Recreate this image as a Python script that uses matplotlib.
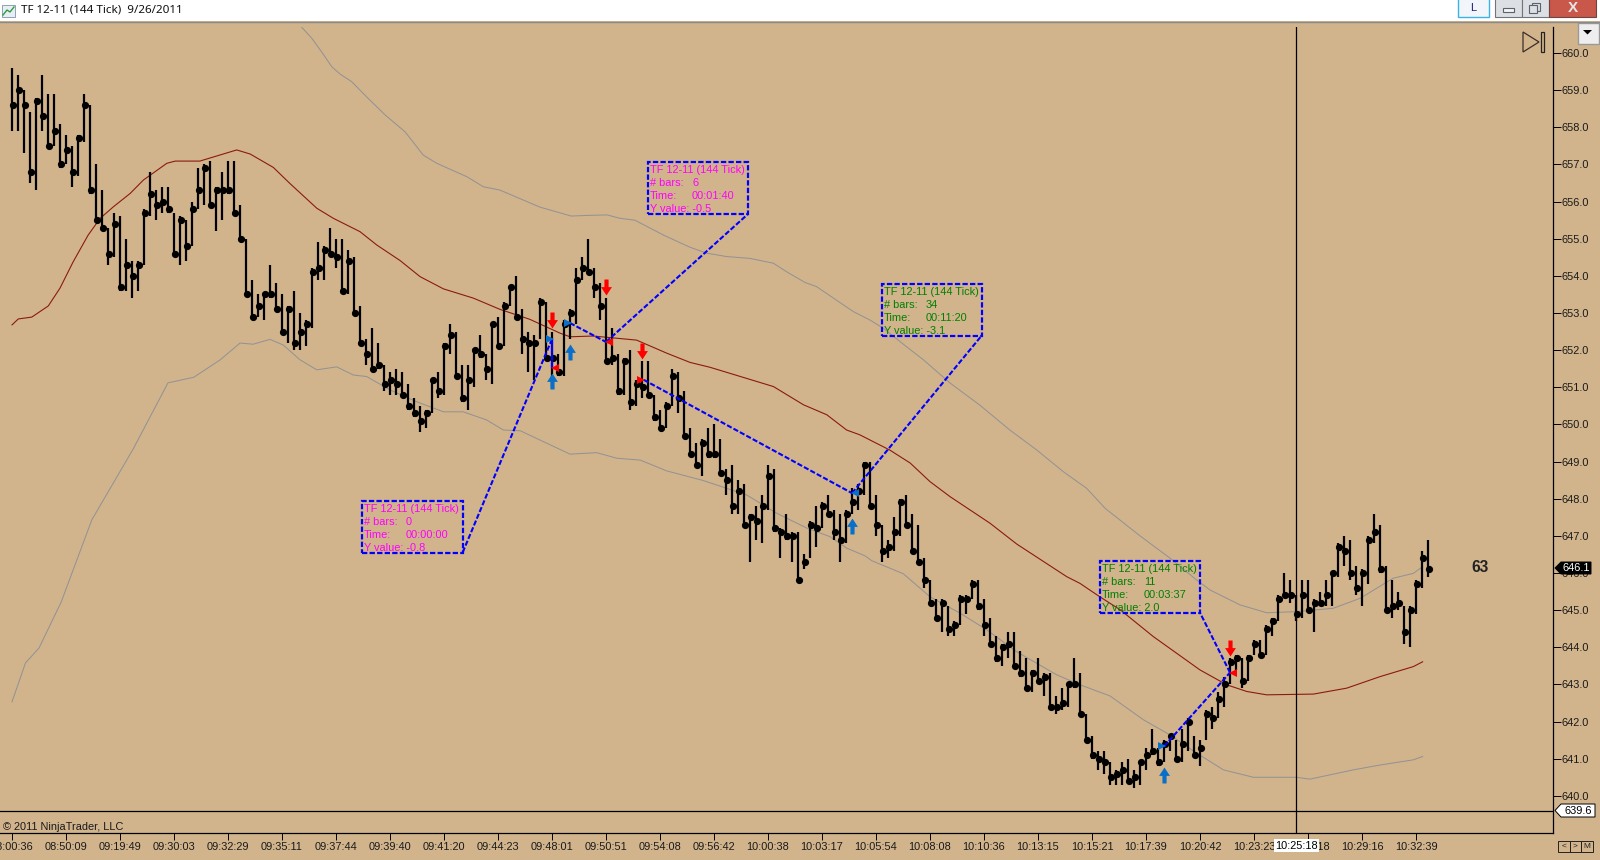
import matplotlib
matplotlib.use('Agg')
import matplotlib.pyplot as plt
from matplotlib.patches import Rectangle, Polygon
from matplotlib.path import Path

plt.rcParams['font.family'] = ['Liberation Sans', 'DejaVu Sans']

# price bars, one value per bar
highs = [659.6,659.4,659.0,658.4,658.8,659.4,658.9,658.9,658.1,657.8,
         657.5,657.8,658.9,658.6,657.0,656.3,655.3,655.7,655.6,655.0,
         654.4,654.4,655.8,656.8,656.3,656.4,656.4,655.7,655.6,655.5,
         656.0,656.9,657.0,657.1,656.4,656.8,657.1,657.1,655.9,655.0,
         653.9,653.5,653.5,654.3,653.8,653.5,653.2,653.6,653.0,652.8,
         654.2,654.9,654.8,655.3,655.0,655.0,654.7,654.5,653.2,652.3,
         652.6,652.2,651.6,651.4,651.5,651.4,651.1,650.7,650.5,650.4,
         651.2,651.4,652.2,652.7,652.5,651.6,651.6,652.0,652.4,651.9,
         652.7,652.9,653.3,653.7,654.0,653.1,652.5,652.4,653.4,653.3,
         652.5,651.9,652.8,653.1,654.2,654.5,655.0,654.2,653.8,653.4,
         652.6,651.9,651.8,652.0,651.2,651.7,651.7,650.8,650.4,650.6,
         651.5,651.4,650.9,649.9,649.5,649.6,649.9,650.0,649.6,648.8,
         648.9,648.5,648.4,647.6,647.8,648.1,648.9,648.8,647.2,647.6,
         647.1,647.1,646.5,647.4,647.8,647.9,648.1,647.7,647.6,647.7,
         648.3,648.4,649.0,649.0,648.1,647.3,646.9,647.5,648.0,648.1,
         647.6,647.3,646.4,645.8,645.3,645.3,645.1,644.7,645.4,645.4,
         645.8,645.8,645.3,644.8,644.3,644.1,644.4,644.4,643.9,643.7,
         643.4,643.7,643.3,643.3,642.7,642.9,643.0,643.7,643.3,642.2,
         641.6,641.2,641.2,640.9,640.7,640.9,641.0,640.7,640.9,641.3,
         641.8,641.3,641.5,641.6,641.5,641.8,642.1,641.6,641.5,642.3,
         642.4,642.8,643.2,643.7,643.8,643.7,643.8,644.2,644.2,644.6,
         644.8,645.4,646.0,645.8,645.4,645.8,645.8,645.3,645.5,645.8,
         646.0,646.8,647.0,646.9,646.2,646.1,647.0,647.6,647.3,646.2,
         645.8,645.5,645.1,645.1,645.8,646.6,646.9]
lows = [657.9,657.9,657.3,656.5,656.3,657.9,657.5,657.5,656.9,657.0,
        656.4,656.7,657.6,656.2,655.5,655.2,654.3,654.5,653.6,653.6,
        653.4,653.6,654.3,655.6,655.5,655.7,655.7,654.5,654.3,654.4,
        654.8,655.8,655.9,655.9,655.2,655.5,656.2,655.7,654.9,653.5,
        652.9,652.9,652.8,653.4,653.1,652.5,652.2,652.0,652.0,652.1,
        652.6,653.9,653.9,654.6,654.2,653.5,653.5,653.0,652.2,651.6,
        651.5,651.5,650.9,650.8,650.8,650.7,650.4,650.2,649.8,649.9,
        650.3,650.7,650.8,651.9,651.3,650.6,650.4,651.0,651.8,651.2,
        651.1,652.1,652.1,653.2,652.8,651.9,651.4,651.2,652.3,651.7,
        651.0,651.3,651.3,652.3,652.7,653.9,654.1,653.4,652.8,651.7,
        651.6,650.8,650.8,650.4,650.5,650.7,650.8,650.1,649.9,649.9,
        650.5,650.3,649.7,649.2,648.9,648.6,649.1,649.1,648.7,648.1,
        647.6,647.6,647.2,646.3,646.9,646.8,647.7,647.1,646.4,646.9,
        646.3,645.8,646.1,646.4,646.7,647.2,647.5,646.9,646.3,646.8,
        647.6,647.7,648.1,647.8,647.0,646.3,646.4,646.6,647.0,647.3,
        646.6,646.3,645.6,645.2,644.7,644.4,644.3,644.3,644.6,644.9,
        645.3,645.0,644.3,644.0,643.6,643.5,643.7,643.5,643.2,642.9,
        642.8,643.0,642.7,642.3,642.2,642.3,642.4,642.9,642.2,641.5,
        641.0,640.7,640.6,640.3,640.3,640.3,640.4,640.2,640.3,640.7,
        641.1,640.8,640.9,641.2,640.9,640.9,641.2,641.1,640.8,641.5,
        641.8,642.1,642.4,643.0,643.4,642.9,643.1,643.8,643.7,643.8,
        644.3,644.7,645.4,645.2,644.7,644.8,645.0,644.4,645.1,645.1,
        645.1,645.9,646.2,645.8,645.4,645.1,645.7,646.8,646.0,645.0,
        644.8,645.0,644.1,644.0,644.9,645.6,645.9]
closes = [658.6,659.0,658.6,656.8,658.7,658.3,657.5,657.9,657.0,657.4,
          656.8,657.7,658.6,656.3,655.5,655.3,654.6,655.4,653.7,654.3,
          654.0,654.3,655.7,656.2,655.9,656.0,655.8,654.6,655.5,654.8,
          655.8,656.3,656.9,655.9,656.3,656.3,656.3,655.7,655.0,653.5,
          652.9,653.2,653.5,653.5,653.1,652.5,653.1,652.2,652.5,652.7,
          654.1,654.2,654.7,654.6,654.5,653.6,654.4,653.0,652.2,651.9,
          651.5,651.6,651.1,651.2,651.1,650.8,650.5,650.3,650.1,650.3,
          651.2,650.9,652.1,652.4,651.3,650.7,651.2,652.0,651.9,651.5,
          652.7,652.1,653.2,653.7,652.9,652.3,652.2,652.2,653.3,651.8,
          651.8,651.4,652.7,653.0,653.9,654.2,654.1,653.7,653.2,651.7,
          651.8,650.9,651.7,650.6,651.1,651.0,650.8,650.2,649.9,650.5,
          651.3,650.7,649.7,649.2,648.9,649.5,649.2,649.2,648.7,648.5,
          647.8,648.2,647.3,647.5,647.4,647.8,648.6,647.2,647.1,647.0,
          647.0,645.8,646.3,647.3,647.2,647.8,647.6,647.1,646.9,647.6,
          647.9,648.2,648.9,647.8,647.3,646.6,646.7,647.1,647.9,647.3,
          646.6,646.3,645.8,645.2,644.8,645.2,644.5,644.6,645.3,645.3,
          645.7,645.1,644.6,644.1,643.7,644.0,644.1,643.5,643.3,642.9,
          643.3,643.1,643.2,642.4,642.4,642.5,643.0,643.0,642.2,641.5,
          641.1,641.0,640.9,640.5,640.6,640.7,640.4,640.5,640.9,641.1,
          641.2,640.9,641.4,641.6,641.0,641.4,642.0,641.1,641.3,642.2,
          642.1,642.6,643.0,643.6,643.7,643.1,643.7,644.1,643.8,644.5,
          644.7,645.3,645.4,645.4,644.9,645.4,645.0,645.2,645.2,645.4,
          646.0,646.7,646.6,646.0,645.6,646.0,646.9,647.1,646.1,645.0,
          645.1,645.2,644.4,645.0,645.7,646.4,646.1]

# moving average, (bar, price)
ma_bar = [0,1.05,3.3,6.05,8,10.2,12.7,14.7,16.9,19.7,21.9,25.8,27.2,31.3,37.45,39.7,43.55,
          46.3,50.8,53.55,58,60.8,64.7,68,71.9,76.9,81.3,86.3,91.3,93,96.9,104.1,109.1,113,
          116.3,126.9,131.9,135.8,139.1,141.3,146.3,149.7,153,156.3,163,167.45,175.8,178,
          181.3,184.7,190.2,198,202.45,205.8,209.1,216.9,222.45,228,233.55,235.1]
ma_val = [652.68,652.84,652.89,653.19,653.67,654.38,655.10,655.55,655.86,656.22,656.58,657.03,
          657.09,657.09,657.39,657.28,656.92,656.49,655.82,655.55,655.19,654.83,654.41,653.98,
          653.65,653.40,653.10,652.83,652.46,652.36,652.38,652.27,651.92,651.67,651.54,651.02,
          650.53,650.26,649.85,649.72,649.31,648.96,648.46,648.06,647.34,646.78,645.90,645.72,
          645.36,645.01,644.29,643.39,642.99,642.81,642.72,642.74,642.90,643.21,643.48,643.61]

# upper band
up_bar = [48.3,49.95,51.6,53.3,54.7,56.6,59.1,62.2,65.5,68.55,70.8,75.8,78.55,81.3,88,93.2,96.3,
          99.2,101.3,103.8,108.55,113,115.8,119.1,123,126.9,129.1,132.2,134.1,138,140.2,143,
          145.2,149.1,151.9,156.3,161.3,166.3,170.8,175.2,179.1,182.2,188,193,197.45,199.7,
          204.7,209.1,214.1,220.2,224.7,230.2,233.55,235.1]
up_val = [660.69,660.40,660.03,659.63,659.43,659.23,658.82,658.33,657.88,657.25,657.03,656.67,
          656.40,656.31,655.85,655.61,655.63,655.64,655.55,655.50,655.10,654.77,654.61,654.52,
          654.47,654.34,654.11,653.82,653.71,653.28,653.04,652.81,652.59,652.09,651.74,651.12,
          650.52,649.85,649.31,648.73,648.28,647.74,647.00,646.40,645.81,645.54,645.14,644.93,
          644.96,645.05,645.32,645.86,645.99,646.17]

# lower band
lo_bar = [0,2.25,4.5,8.2,13.3,20.2,26,30.3,34.7,38,40.2,43,45.2,48,50.8,54.1,56.9,59.1,63,67.45,
          71.9,75.2,79.1,81.9,84.7,88,93,97.45,100.8,104.7,109.1,115.2,119.1,122.45,127.45,
          132.45,136.3,139.1,142.2,143.3,148.55,153,158,162.45,167.45,174.1,178,183,188.55,
          193,197.45,201.9,206.9,214.1,216.3,223.55,228,233.55,235.1]
lo_val = [642.53,643.58,643.98,645.22,647.43,649.34,651.12,651.27,651.74,652.19,652.16,652.29,
          652.14,651.74,651.47,651.55,651.33,651.29,650.93,650.61,650.34,650.34,650.12,649.85,
          649.83,649.58,649.20,649.24,649.09,649.04,648.75,648.49,648.28,648.10,647.61,647.21,
          646.98,646.67,646.46,646.33,645.98,645.36,644.92,644.47,643.88,643.26,642.99,642.69,
          642.05,641.64,641.15,640.70,640.50,640.50,640.45,640.70,640.83,640.97,641.06]

# entry / exit arrows
red_bar = [90, 99, 105, 203]
red_val = [652.80, 653.69, 651.99, 643.98]
blue_bar = [90, 93, 140, 192]
blue_val = [651.17, 651.96, 647.27, 640.56]

x_labels = ['08:00:36','08:50:09','09:19:49','09:30:03','09:32:29','09:35:11','09:37:44','09:39:40',
            '09:41:20','09:44:23','09:48:01','09:50:51','09:54:08','09:56:42','10:00:38','10:03:17',
            '10:05:54','10:08:08','10:10:36','10:13:15','10:15:21','10:17:39','10:20:42','10:23:23',
            '10:26:18','10:29:16','10:32:39']
y_ticks = [640,641,642,643,644,645,646,647,648,649,650,651,652,653,654,655,656,657,658,659,660]

# measuring tool: anchor a, anchor b, box corner
tool_a = [(90, 651.51), (93, 652.73), (105.3, 651.2), (192, 641.33)]
tool_b = [(90, 652.30), (99, 652.22), (140, 648.15), (203, 643.32)]
tool_corner = [(75.1, 646.55), (122.7, 655.67), (161.6, 652.39), (198, 644.93)]
# box: left bar, right bar, top price, bottom price
boxes = [(58.3, 75.1, 647.95, 646.53), (106, 122.7, 657.07, 655.67),
         (145, 161.7, 653.78, 652.39), (181.3, 198, 646.33, 644.93)]
box_colors = ['#FF00FF', '#FF00FF', '#008000', '#008000']
box_bars = ['0', '6', '34', '11']
box_time = ['00:00:00', '00:01:40', '00:11:20', '00:03:37']
box_y = ['-0.8', '-0.5', '-3.1', '2.0']

TAN = '#D2B48C'
fig = plt.figure(figsize=(16, 8.6), dpi=100, facecolor=TAN)

# chart area in pixels: x 0-1553, y 27-833
ax = fig.add_axes([0, 27/860, 1553/1600, 806/860], facecolor=TAN)
ax.set_xlim(-2, 256.83)
ax.set_ylim(639.0, 660.7)

# bands and average
ax.plot(up_bar, up_val, color='#939393', lw=0.75, zorder=2)
ax.plot(lo_bar, lo_val, color='#939393', lw=0.75, zorder=2)
ax.plot(ma_bar, ma_val, color='#8B1A10', lw=0.8, zorder=2)

# bars with a dot at the close
bars = list(range(len(closes)))
ax.vlines(bars, lows, highs, color='black', lw=1.6, zorder=3)
ax.plot([b + 0.17 for b in bars], closes, 'o', color='black', ms=5.2, mew=0, zorder=4)

# crosshair
ax.axhline(639.6, color='black', lw=0.9, zorder=5)
ax.axvline(214, color='black', lw=0.9, zorder=5)

# arrow markers
up_arrow = Path([(-0.26,-1),(0.26,-1),(0.26,-0.05),(0.68,-0.05),(0,1),(-0.68,-0.05),(-0.26,-0.05),(-0.26,-1)], closed=True)
down_arrow = Path([(-0.26,1),(0.26,1),(0.26,0.05),(0.68,0.05),(0,-1),(-0.68,0.05),(-0.26,0.05),(-0.26,1)], closed=True)
ax.plot(red_bar, red_val, ls='none', marker=down_arrow, ms=11.5, color='#FF0000', mew=0, zorder=7)
ax.plot(blue_bar, blue_val, ls='none', marker=up_arrow, ms=11.5, color='#0A6FC8', mew=0, zorder=7)

# measuring tool lines
for a, b, c in zip(tool_a, tool_b, tool_corner):
    ax.plot([a[0], b[0]], [a[1], b[1]], color='#0000FF', lw=1.5, ls=(0, (2.5, 1)), zorder=6)
    ax.plot([b[0], c[0]], [b[1], c[1]], color='#0000FF', lw=1.5, ls=(0, (2.5, 1)), zorder=6)
ax.plot([90, 90], [652.30, 651.51], color='#0000FF', lw=1.5, ls=(0, (2.5, 1)), zorder=6)

# small end triangles
ax.plot([89.7, 92.6, 191.6], [652.30, 652.73, 641.33], ls='none', marker='>', ms=6.2, color='#0A6FC8', mew=0, zorder=7)
ax.plot([140.5], [648.15], ls='none', marker='<', ms=6.2, color='#0A6FC8', mew=0, zorder=7)
ax.plot([90.5, 99.5, 203.5], [651.51, 652.22, 643.32], ls='none', marker='<', ms=6.2, color='#FF0000', mew=0, zorder=7)
ax.plot([104.8], [651.2], ls='none', marker='>', ms=6.2, color='#FF0000', mew=0, zorder=7)

# measuring tool boxes
for box, col, nb, tm, yv in zip(boxes, box_colors, box_bars, box_time, box_y):
    ax.add_patch(Rectangle((box[0], box[3]), box[1]-box[0], box[2]-box[3], fill=False,
                           ec='#0000FF', lw=1.6, ls=(0, (2.4, 1)), zorder=6))
    rows = [('TF 12-11 (144 Tick)', None), ('# bars:', nb), ('Time:', tm), ('Y value: ' + yv, None)]
    for k, (left, right) in enumerate(rows):
        ax.annotate(left, (box[0], box[2]), xytext=(2, -8 - 13*k), textcoords='offset pixels',
                    color=col, fontsize=7.9, va='center', zorder=8)
        if right is not None:
            ax.annotate(right, (box[0], box[2]), xytext=(44, -8 - 13*k), textcoords='offset pixels',
                        color=col, fontsize=7.9, va='center', zorder=8)

# axes
for side in ['top', 'left']:
    ax.spines[side].set_visible(False)
for side in ['right', 'bottom']:
    ax.spines[side].set_linewidth(0.9)
ax.yaxis.tick_right()
ax.set_yticks(y_ticks)
ax.set_yticklabels(['%.1f' % v for v in y_ticks])
ax.set_xticks([9*k for k in range(len(x_labels))])
ax.set_xticklabels(x_labels)
ax.tick_params(axis='y', length=5.5, width=0.7, pad=0.8, labelsize=7.9, labelcolor='#1a1a1a')
ax.tick_params(axis='x', length=5, width=0.7, pad=1.5, labelsize=7.9, labelcolor='#1a1a1a')

# window parts drawn in pixel coordinates
ui = fig.add_axes([0, 0, 1, 1], facecolor='none', zorder=10)
ui.set_xlim(0, 1600)
ui.set_ylim(860, 0)
ui.axis('off')

# title bar
ui.add_patch(Rectangle((0, 0), 1600, 21, fc='white', ec='none'))
ui.plot([0, 1600], [21.5, 21.5], color='#8a8a8a', lw=1)
ui.add_patch(Rectangle((2, 5), 13, 12, fc='#e8eef5', ec='#7f93a8', lw=0.6))
ui.plot([3, 7, 10, 14], [15, 10, 12, 7], color='#2e9e3a', lw=1)
ui.text(21, 10.5, 'TF 12-11 (144 Tick)  9/26/2011', fontsize=8.4, family='Noto Sans',
        va='center', color='#111111')

# window buttons
ui.add_patch(Rectangle((1458, -3), 31, 20, fc='#f2f6fa', ec='#39b3e8', lw=1))
ui.text(1473.5, 8, 'L', fontsize=8, ha='center', va='center', color='#1a1a80')
ui.add_patch(Rectangle((1495, -3), 27, 20, fc='#dcdfe3', ec='#70757c', lw=0.8))
ui.add_patch(Rectangle((1522, -3), 27, 20, fc='#dcdfe3', ec='#70757c', lw=0.8))
ui.add_patch(Rectangle((1549, -3), 47, 20, fc='#c9584a', ec='#70453f', lw=0.8))
ui.add_patch(Rectangle((1503, 8), 11, 4, fc='#f4f4f4', ec='#5a6270', lw=0.8))
ui.add_patch(Rectangle((1532, 3), 8, 8, fc='none', ec='#5a6270', lw=0.8))
ui.add_patch(Rectangle((1529, 5), 8, 8, fc='#dcdfe3', ec='#5a6270', lw=0.8))
ui.text(1573, 8, 'X', fontsize=11, fontweight='bold', ha='center', va='center', color='#e6e6e6')

# dropdown button
ui.add_patch(Rectangle((1578, 23), 21, 21, fc='#eeeeee', ec='#9a9a9a', lw=1))
ui.add_patch(Polygon([(1583, 30), (1592, 30), (1587.5, 34.5)], fc='black', ec='none'))

# go to end icon
ui.add_patch(Polygon([(1523, 32), (1539, 42), (1523, 52)], fc='none', ec='#3a3026', lw=0.9))
ui.add_patch(Rectangle((1540.5, 32), 3.5, 20, fc='none', ec='#222222', lw=0.9))

# price tags
ui.add_patch(Polygon([(1555, 568), (1561, 562), (1591, 562), (1591, 574), (1561, 574)], fc='black', ec='black', lw=0.7))
ui.text(1576, 568, '646.1', color='white', fontsize=7.9, ha='center', va='center')
ui.add_patch(Polygon([(1555, 810.5), (1561, 804), (1595, 804), (1595, 817), (1561, 817)], fc='white', ec='black', lw=0.7))
ui.text(1578, 810.5, '639.6', color='black', fontsize=7.9, ha='center', va='center')

ui.text(1480, 568, '63', fontsize=11.2, fontweight='bold', ha='center', va='center', color='#222222')
ui.text(3, 827, '\u00a9 2011 NinjaTrader, LLC', fontsize=7.9, va='center', color='#1a1a1a')

# crosshair time tag
ui.add_patch(Rectangle((1273.5, 839), 45.5, 13, fc='white', ec='none'))
ui.text(1296.2, 845.7, '10:25:18', fontsize=7.9, ha='center', va='center', color='black')

# scroll buttons
for k, s in enumerate(['<', '>', 'M']):
    ui.add_patch(Rectangle((1558 + 11.7*k, 841), 11.7, 10.5, fc='none', ec='#222222', lw=0.7))
    ui.text(1563.8 + 11.7*k, 846.3, s, fontsize=6, ha='center', va='center', color='#222222')

fig.savefig('out.png', dpi=100, facecolor=TAN)
